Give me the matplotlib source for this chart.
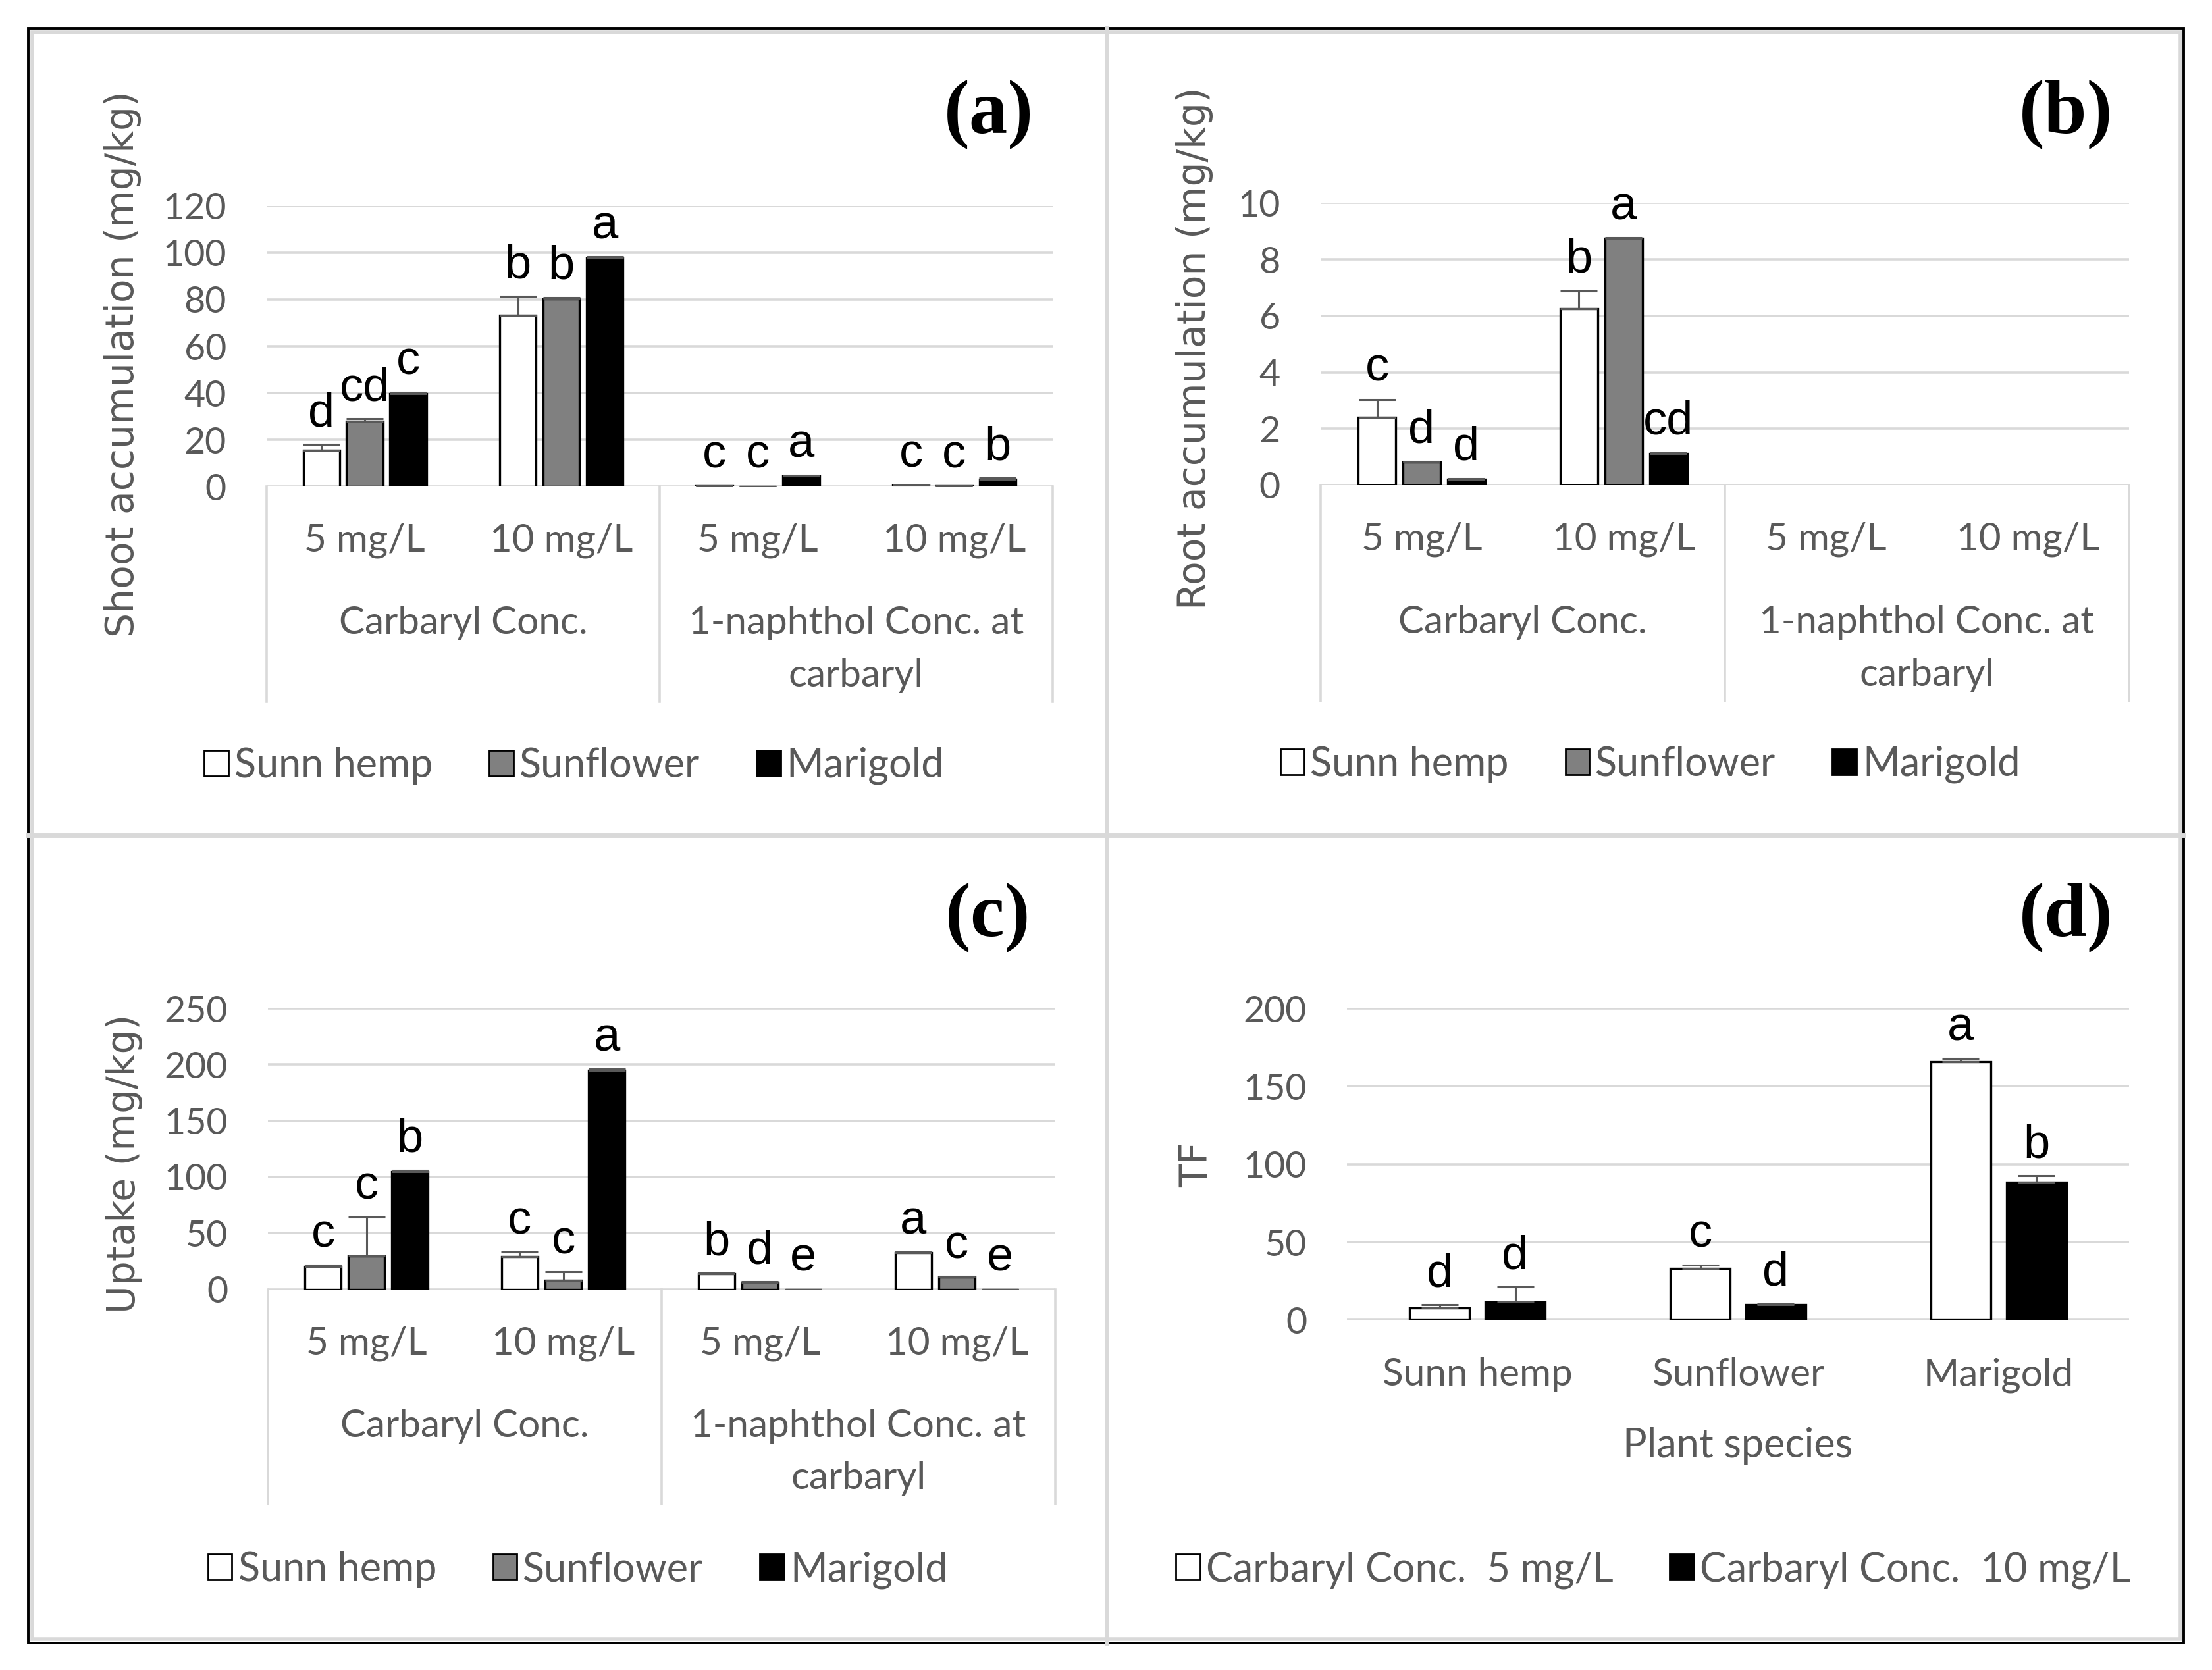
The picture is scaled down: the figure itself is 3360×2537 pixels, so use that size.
import numpy as np
import matplotlib
matplotlib.use('Agg')
import matplotlib.pyplot as plt
from matplotlib.patches import Patch, Rectangle
from matplotlib.lines import Line2D

plt.rcParams['font.family'] = ['Lato', 'DejaVu Sans']

GRID = '#d9d9d9'
TXT = '#595959'

species = ['Sunn hemp', 'Sunflower', 'Marigold']
species_colors = ['white', '#808080', 'black']
conc_labels = ['5 mg/L', '10 mg/L', '5 mg/L', '10 mg/L']
group_labels = ['Carbaryl Conc.', '1-naphthol Conc. at', 'carbaryl']

# rows: Sunn hemp, Sunflower, Marigold
# cols: carbaryl 5, carbaryl 10, 1-naphthol 5, 1-naphthol 10
shoot_mean = [[15.5, 73.2, 0.3, 0.6],
              [27.8, 80.4, 0.2, 0.3],
              [39.8, 97.8, 4.5, 3.3]]
shoot_err = [[2.6, 8.2, 0.0, 0.0],
             [1.2, 0.5, 0.0, 0.0],
             [0.5, 0.5, 0.3, 0.3]]
shoot_letters = [['d', 'b', 'c', 'c'],
                 ['cd', 'b', 'c', 'c'],
                 ['c', 'a', 'a', 'b']]

root_mean = [[2.41, 6.26, np.nan, np.nan],
             [0.82, 8.74, np.nan, np.nan],
             [0.21, 1.12, np.nan, np.nan]]
root_err = [[0.63, 0.63, 0, 0],
            [0.03, 0.03, 0, 0],
            [0.03, 0.03, 0, 0]]
root_letters = [['c', 'b', '', ''],
                ['d', 'a', '', ''],
                ['d', 'cd', '', '']]

uptake_mean = [[20.5, 28.9, 14.0, 32.6],
               [29.7, 7.8, 6.4, 10.7],
               [104.9, 194.9, 0.0, 0.0]]
uptake_err = [[1.0, 4.0, 0.5, 0.5],
              [34.3, 7.8, 0.5, 0.5],
              [1.2, 1.0, 0.0, 0.0]]
uptake_letters = [['c', 'c', 'b', 'a'],
                  ['c', 'c', 'd', 'c'],
                  ['b', 'a', 'e', 'e']]

# TF: rows = carbaryl 5 mg/L, carbaryl 10 mg/L ; cols = species
tf_series = ['Carbaryl Conc.  5 mg/L', 'Carbaryl Conc.  10 mg/L']
tf_colors = ['white', 'black']
tf_mean = [[7.7, 33.1, 165.9],
           [11.7, 9.9, 88.3]]
tf_err = [[2.2, 2.1, 2.0],
          [9.7, 0.6, 4.4]]
tf_letters = [['d', 'c', 'a'],
              ['d', 'd', 'b']]


def draw_bars(ax, means, errs, letters, colors, width, step):
    n = len(means[0])
    x = np.arange(n)
    k = len(means)
    for i in range(k):
        xi = x + (i - (k - 1) / 2) * step
        m = np.array(means[i], dtype=float)
        e = np.array(errs[i], dtype=float)
        ok = ~np.isnan(m)
        ax.bar(xi[ok], m[ok], width, color=colors[i], edgecolor='black',
               linewidth=1.2, zorder=3)
        ax.errorbar(xi[ok], m[ok], yerr=[np.zeros(ok.sum()), e[ok]], fmt='none',
                    ecolor='#595959', elinewidth=1.1, capsize=10, capthick=1.1,
                    zorder=4)
        for xx, mm, ee, lab in zip(xi, m, e, letters[i]):
            if np.isnan(mm) or not lab:
                continue
            ax.annotate(lab, (xx, mm + ee), xytext=(0, 10),
                        textcoords='offset points', ha='center', va='baseline',
                        fontsize=26, family='Liberation Sans', color='black')
    ax.set_xlim(-0.5, n - 0.5)


def style_axes(ax, top, stepv):
    ax.set_ylim(0, top)
    ax.set_yticks(np.arange(0, top + stepv / 2, stepv))
    ax.yaxis.grid(True, color=GRID, linewidth=1.3, zorder=0)
    ax.set_axisbelow(True)
    for s in ax.spines.values():
        s.set_visible(False)
    ax.tick_params(axis='y', length=0, pad=22, labelsize=20, labelcolor=TXT)
    ax.set_xticks([])


def category_box(ax):
    tr = ax.transAxes
    for xv in (0, 0.5, 1):
        ax.add_line(Line2D([xv, xv], [0, -0.765], transform=tr, color=GRID,
                           lw=1.3, clip_on=False))
    for i, lab in enumerate(conc_labels):
        ax.text((i + 0.5) / 4, -0.193, lab, transform=tr, ha='center',
                va='center', fontsize=21, color=TXT)
    ax.text(0.25, -0.487, group_labels[0], transform=tr, ha='center',
            va='center', fontsize=21, color=TXT)
    ax.text(0.75, -0.487, group_labels[1], transform=tr, ha='center',
            va='center', fontsize=21, color=TXT)
    ax.text(0.75, -0.673, group_labels[2], transform=tr, ha='center',
            va='center', fontsize=21, color=TXT)


def add_legend(fig, labels, colors, x, y):
    handles = [Patch(facecolor=c, edgecolor='black', linewidth=1.0) for c in colors]
    fig.legend(handles, labels, loc='center', bbox_to_anchor=(x, y), ncol=len(labels),
               frameon=False, fontsize=22, labelcolor=TXT, handlelength=0.6,
               handleheight=0.6, handletextpad=0.15, columnspacing=1.4)


fig = plt.figure(figsize=(16.8, 12.685), dpi=200)

# panel (a)
ax_a = fig.add_axes([0.1205, 0.7086, 0.3553, 0.1681])
style_axes(ax_a, 120, 20)
draw_bars(ax_a, shoot_mean, shoot_err, shoot_letters, species_colors, 0.185, 0.221)
category_box(ax_a)

# panel (b)
ax_b = fig.add_axes([0.597, 0.7095, 0.3654, 0.1689])
style_axes(ax_b, 10, 2)
draw_bars(ax_b, root_mean, root_err, root_letters, species_colors, 0.185, 0.221)
category_box(ax_b)

# panel (c)
ax_c = fig.add_axes([0.1212, 0.228, 0.3558, 0.1681])
style_axes(ax_c, 250, 50)
draw_bars(ax_c, uptake_mean, uptake_err, uptake_letters, species_colors, 0.185, 0.221)
category_box(ax_c)

# panel (d)
ax_d = fig.add_axes([0.609, 0.2095, 0.3534, 0.1866])
style_axes(ax_d, 200, 50)
draw_bars(ax_d, tf_mean, tf_err, tf_letters, tf_colors, 0.23, 0.29)
for i, lab in enumerate(species):
    ax_d.text((i + 0.5) / 3, -0.176, lab, transform=ax_d.transAxes, ha='center',
              va='center', fontsize=21, color=TXT)
ax_d.text(0.5, -0.403, 'Plant species', transform=ax_d.transAxes, ha='center',
          va='center', fontsize=22, color=TXT)

# y labels
fig.text(0.0555, 0.782, 'Shoot accumulation (mg/kg)', rotation=90, ha='center',
         va='center', fontsize=21, color=TXT, family='DejaVu Sans')
fig.text(0.540, 0.7914, 'Root accumulation (mg/kg)', rotation=90, ha='center',
         va='center', fontsize=21, color=TXT, family='DejaVu Sans')
fig.text(0.0561, 0.3032, 'Uptake (mg/kg)', rotation=90, ha='center',
         va='center', fontsize=21, color=TXT, family='DejaVu Sans')
fig.text(0.541, 0.3024, 'TF', rotation=90, ha='center',
         va='center', fontsize=21, color=TXT, family='DejaVu Sans')

# panel tags
for tag, x, y in [('(a)', 0.447, 0.9316), ('(b)', 0.934, 0.9316),
                  ('(c)', 0.4467, 0.451), ('(d)', 0.934, 0.451)]:
    fig.text(x, y, tag, ha='center', va='center', fontsize=42,
             fontweight='bold', family='Liberation Serif')

# legends
add_legend(fig, species, species_colors, 0.2596, 0.5414)
add_legend(fig, species, species_colors, 0.746, 0.5422)
add_legend(fig, species, species_colors, 0.2612, 0.060)
add_legend(fig, tf_series, tf_colors, 0.7474, 0.060)

# frame: grey panel borders inside a black outer box
fig.add_artist(Rectangle((0.0145, 0.0185), 0.9711, 0.9621, transform=fig.transFigure,
                         fill=False, edgecolor=GRID, lw=2.0))
fig.add_artist(Line2D([0.5003, 0.5003], [0.016, 0.983], transform=fig.transFigure,
                      color=GRID, lw=2.5))
fig.add_artist(Line2D([0.0128, 0.9872], [0.4998, 0.4998], transform=fig.transFigure,
                      color=GRID, lw=2.5))
fig.add_artist(Rectangle((0.01276, 0.016), 0.97444, 0.9671, transform=fig.transFigure,
                         fill=False, edgecolor='black', lw=1.4))

fig.savefig('out.png', dpi=200, facecolor='white')
